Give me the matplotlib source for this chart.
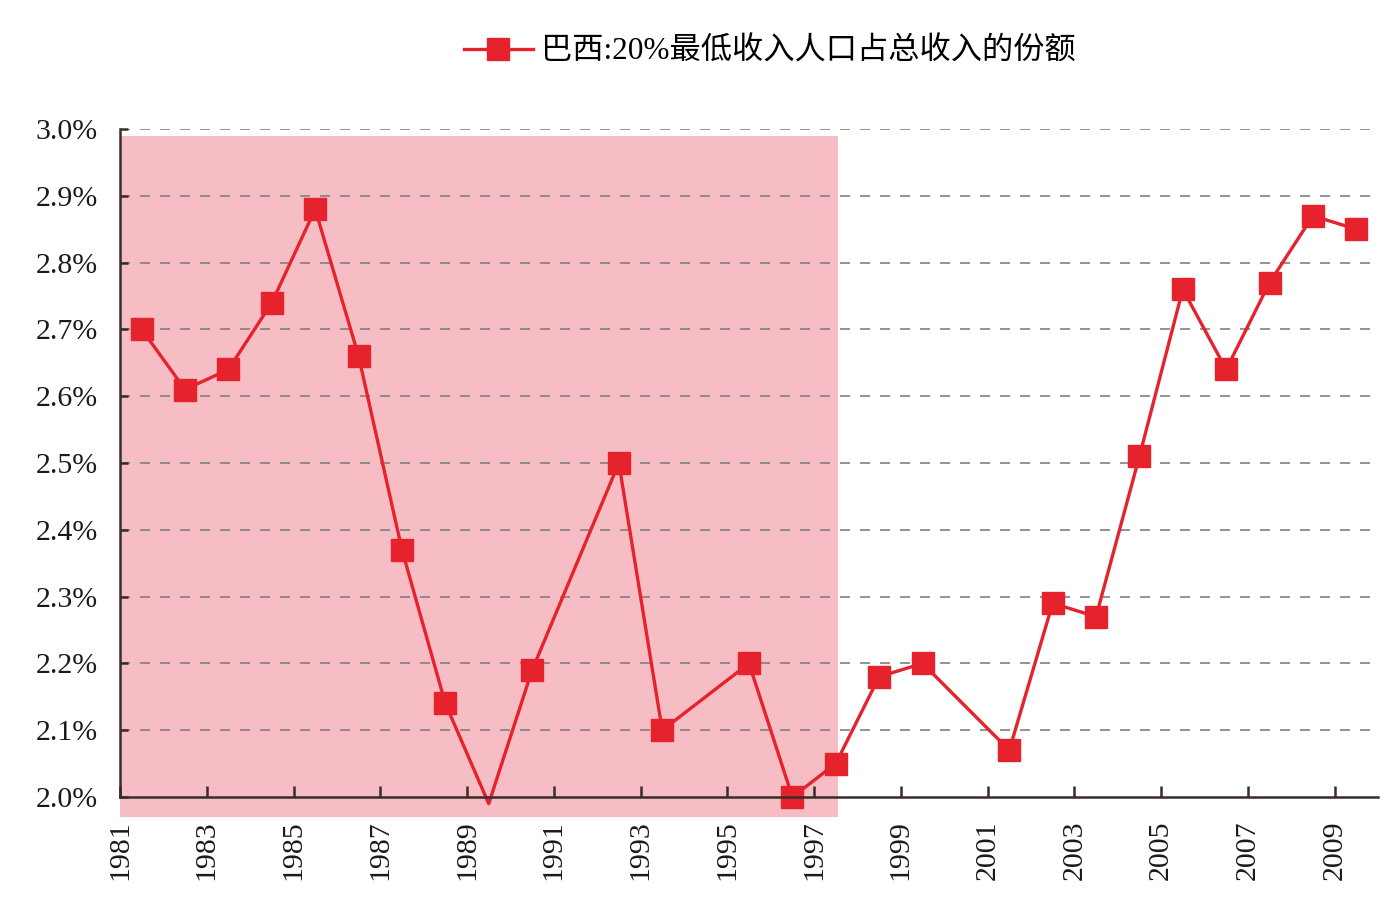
import numpy as np
import matplotlib
matplotlib.use("Agg")
import matplotlib.pyplot as plt
from matplotlib.patches import Rectangle
from matplotlib.lines import Line2D

years = list(range(1981, 2010))
values = [2.70, 2.61, 2.64, 2.74, 2.88, 2.66, 2.37, 2.14, 1.99, 2.19,
          np.nan, 2.50, 2.10, np.nan, 2.20, 2.00, 2.05, 2.18, 2.20, np.nan,
          2.07, 2.29, 2.27, 2.51, 2.76, 2.64, 2.77, 2.87, 2.85]
series_label = "巴西:20%最低收入人口占总收入的份额"
shade_years = (1981, 1997)
y_ticks = [2.0, 2.1, 2.2, 2.3, 2.4, 2.5, 2.6, 2.7, 2.8, 2.9, 3.0]

RED = "#e6222d"
PINK = "#f6bec4"
AX = "#3a2c2c"
serif = "Liberation Serif"

fig = plt.figure(figsize=(13.94, 9.07), dpi=100)
ax = fig.add_axes([120/1394, 1-797/907, (1378-120)/1394, (797-129)/907])

n = len(years)
x = np.arange(n) + 0.5
v = np.array(values, dtype=float)
ok = ~np.isnan(v)

ymin, ymax = 2.0, 3.0
ax.set_xlim(0, n)
ax.set_ylim(ymin, ymax)

# shaded period
i0 = years.index(shade_years[0])
i1 = years.index(shade_years[1])
rect = Rectangle((i0, 1.97), (i1 + 0.56) - i0, 2.99 - 1.97, facecolor=PINK,
                 edgecolor="none", zorder=0.5, clip_on=False, transform=ax.transData)
ax.add_patch(rect)

# grid
for yv in y_ticks[1:]:
    ax.axhline(yv, color="#808080", lw=1.2, ls=(0, (6, 6)), zorder=1)

# line (connect across gaps)
ax.plot(x[ok], v[ok], color=RED, lw=2.4, zorder=3, clip_on=False)
mv = np.where(v >= ymin - 1e-9, v, np.nan)
ax.plot(x, mv, ls="none", marker="s", ms=15.5, color=RED, mec=RED, zorder=4, clip_on=False)

for s in ["top", "right"]:
    ax.spines[s].set_visible(False)
for s in ["left", "bottom"]:
    ax.spines[s].set_color(AX)
    ax.spines[s].set_linewidth(1.8)
    ax.spines[s].set_zorder(5)

ax.set_yticks(y_ticks)
ax.set_yticklabels([f"{t:.1f}%" for t in y_ticks], fontfamily=serif, fontsize=21.5, color="#1a1a1a")
xt = np.arange(0, n, 2)
ax.set_xticks(xt)
ax.set_xticklabels([str(years[i]) for i in xt], rotation=90, fontfamily=serif,
                   fontsize=21.5, color="#1a1a1a")
ax.tick_params(axis="y", direction="in", length=6, width=1.8, color=AX, pad=16)
ax.tick_params(axis="x", direction="in", length=8, width=1.8, color=AX, pad=17)

handle = Line2D([], [], color=RED, lw=2.4, marker="s", ms=15.5, mec=RED)
leg = fig.legend([handle], [series_label], loc="center", bbox_to_anchor=(770/1394, 1-52/907),
                 frameon=False, handlelength=2.2, handletextpad=0.28,
                 prop={"family": [serif, "Noto Sans CJK SC"], "size": 22.5})

fig.savefig("out.png", dpi=100)
